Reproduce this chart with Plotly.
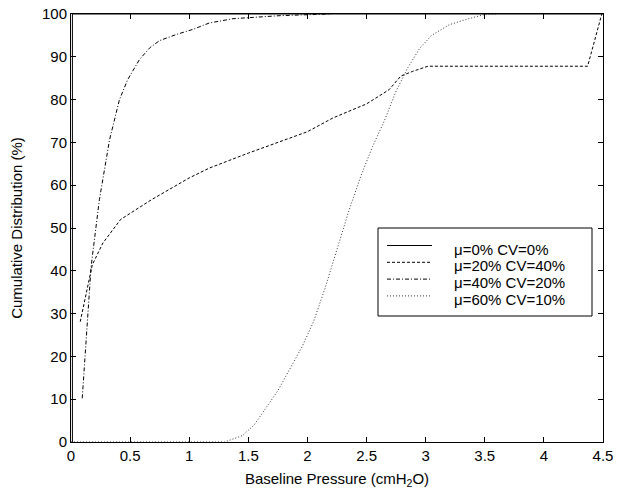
import plotly.graph_objects as go

# Series data (x = baseline pressure in cmH2O, y = cumulative distribution %)
s1_name = "μ=0% CV=0%"
s1_x = [0.012, 0.012, 4.5]
s1_y = [0, 100, 100]

s2_name = "μ=20% CV=40%"
s2_x = [0.078, 0.18, 0.27, 0.42, 0.68, 1.0, 1.17, 1.5, 2.0, 2.215, 2.5, 2.61, 2.69, 2.79, 2.89, 3.02, 4.37, 4.49]
s2_y = [28.1, 41.4, 46.5, 52.0, 56.6, 61.7, 64.0, 67.5, 72.5, 75.7, 79.0, 80.8, 82.3, 85.5, 86.6, 87.8, 87.8, 100]

s3_name = "μ=40% CV=20%"
s3_x = [0.095, 0.17, 0.24, 0.326, 0.41, 0.48, 0.58, 0.67, 0.75, 0.89, 1.03, 1.17, 1.37, 1.76, 2.07, 2.2]
s3_y = [10.2, 41, 56.6, 70.6, 80, 84.7, 89.4, 92.2, 93.8, 95.2, 96.4, 97.9, 98.9, 99.6, 99.9, 100]

s4_name = "μ=60% CV=10%"
s4_x = [0.0, 1.3, 1.45, 1.55, 1.65, 1.75, 1.85, 1.95, 2.05, 2.15, 2.25, 2.35, 2.45, 2.55, 2.65, 2.75, 2.85, 2.95, 3.05, 3.2, 3.35, 3.5, 3.6]
s4_y = [0, 0, 1.5, 4, 8, 12, 17, 22, 28, 36, 45, 54, 62, 69, 75, 82, 87.5, 92, 95, 97.5, 98.8, 99.9, 100]

x_ticks = [0, 0.5, 1, 1.5, 2, 2.5, 3, 3.5, 4, 4.5]
x_tick_labels = ["0", "0.5", "1", "1.5", "2", "2.5", "3", "3.5", "4", "4.5"]
y_ticks = [0, 10, 20, 30, 40, 50, 60, 70, 80, 90, 100]
y_tick_labels = [str(v) for v in y_ticks]

FONT = "Liberation Sans, Arial, sans-serif"
FS = 15

series = [
    (s1_x, s1_y, s1_name, "solid", "black"),
    (s2_x, s2_y, s2_name, "3px,2px", "black"),
    (s3_x, s3_y, s3_name, "4px,2px,1px,2px", "black"),
    (s4_x, s4_y, s4_name, "1px,2px", "#333333"),
]

fig = go.Figure()
for xs, ys, name, dash, col in series:
    fig.add_trace(go.Scatter(x=xs, y=ys, name=name, mode="lines",
                             line=dict(color=col, width=1, dash=dash),
                             showlegend=False))

axis_common = dict(showline=True, linecolor="black", linewidth=1, mirror="ticks",
                   ticks="inside", ticklen=5, tickcolor="black", tickwidth=1,
                   showgrid=False, zeroline=False, automargin=False,
                   ticklabeloverflow="allow",
                   tickfont=dict(family=FONT, size=FS, color="black"))

fig.update_xaxes(range=[0, 4.5], tickvals=x_ticks, ticktext=x_tick_labels,
                 title=dict(text="Baseline Pressure (cmH<sub>2</sub>O)",
                            font=dict(family=FONT, size=FS, color="black"), standoff=10),
                 **axis_common)
fig.update_yaxes(range=[0, 100], tickvals=y_ticks, ticktext=y_tick_labels,
                 title=dict(text="Cumulative Distribution (%)",
                            font=dict(family=FONT, size=FS, color="black"), standoff=25),
                 **axis_common)

# The page body has an 8px margin, so the figure is drawn 8px in from the corner.
OFF = 8
WIN_W, WIN_H = 636, 494
# Plot area in page pixels
PL, PR, PT, PB = 71, 603, 14, 442

def px_x(p):
    return (p - PL) / (PR - PL)

def px_y(p):
    return (PB - p) / (PB - PT)

# Manual legend (box, line samples and labels) in paper coordinates
shapes = [dict(type="rect", xref="paper", yref="paper",
               x0=px_x(378), x1=px_x(592), y0=px_y(316), y1=px_y(228),
               line=dict(color="black", width=1), fillcolor="white", layer="above")]
annotations = []
leg_rows = [245.5, 262.3, 279.1, 295.9]
for (xs, ys, name, dash, col), row in zip(series, leg_rows):
    shapes.append(dict(type="line", xref="paper", yref="paper",
                       x0=px_x(387), x1=px_x(432), y0=px_y(row), y1=px_y(row),
                       line=dict(color=col, width=1, dash=dash), layer="above"))
    annotations.append(dict(xref="paper", yref="paper", x=px_x(452), y=px_y(row + 3.5),
                            text=name, showarrow=False, xanchor="left", yanchor="middle",
                            font=dict(family=FONT, size=FS, color="black")))

fig.update_layout(
    width=WIN_W - OFF, height=WIN_H - OFF,
    margin=dict(l=PL - OFF, r=WIN_W - PR, t=PT - OFF, b=WIN_H - PB, autoexpand=False),
    paper_bgcolor="white", plot_bgcolor="white",
    font=dict(family=FONT, size=FS, color="black"),
    shapes=shapes, annotations=annotations,
    showlegend=False,
)

fig.write_html("out.html")
